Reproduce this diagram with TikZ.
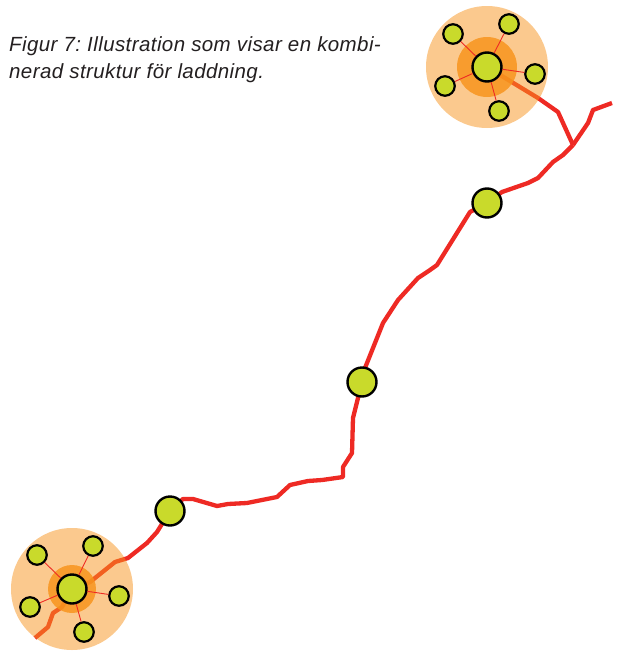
\documentclass[tikz,border=0pt]{standalone}
\usepackage{fontspec}
\setmainfont{Liberation Sans}
\definecolor{route}{HTML}{EE2A24}
\definecolor{halo}{HTML}{F7941D}
\definecolor{station}{HTML}{C9DA2B}
\definecolor{captext}{HTML}{231F20}
\pgfdeclarelayer{bg}
\pgfdeclarelayer{halolayer}
\pgfsetlayers{bg,halolayer,main}
\frenchspacing
\begin{document}
\begin{tikzpicture}[x=1pt,y=-1pt,
  hub/.style={circle, fill=station, draw=black, line width=2.4pt, minimum size=29pt, inner sep=0pt},
  sat/.style={circle, fill=station, draw=black, line width=2.2pt, minimum size=19.5pt, inner sep=0pt},
  road/.style={draw=route, line width=4.3pt, line join=round},
  spoke/.style={draw=route, line width=0.9pt},
  outerhalo/.style={fill=halo, fill opacity=0.5},
  innerhalo/.style={fill=halo, fill opacity=0.85},
  captionline/.style={anchor=base west, inner sep=0pt, text=captext,
    font=\itshape\addfontfeature{LetterSpace=2}\fontsize{20.5}{27}\selectfont}]
\useasboundingbox (0,0) rectangle (618,651);

% caption
\node[captionline] (cap1) at (9,51) {Figur 7: Illustration som visar en kombi-};
\node[captionline] (cap2) at (9,78) {nerad struktur för laddning.};

% stations along the route
\node[hub] (top) at (487,67) {};
\node[hub] (s1) at (487,203) {};
\node[hub] (s2) at (362,382) {};
\node[hub] (s3) at (170,511) {};
\node[hub] (bot) at (72,589) {};

% satellites of the upper cluster
\node[sat] (ta) at (453,34) {};
\node[sat] (tb) at (509,24) {};
\node[sat] (tc) at (535,74) {};
\node[sat] (td) at (499,111) {};
\node[sat] (te) at (445,86) {};

% satellites of the lower cluster
\node[sat] (ba) at (37,555) {};
\node[sat] (bb) at (93,546) {};
\node[sat] (bc) at (119,596) {};
\node[sat] (bd) at (84,632) {};
\node[sat] (be) at (30,607) {};

% end points of the route
\coordinate (fork) at (573,145);
\coordinate (eastend) at (612,103);
\coordinate (westend) at (35,638);

\begin{pgfonlayer}{bg}
  \path[road] (top.center) -- (538,98) -- (558,112) -- (fork);
  \path[road] (eastend) -- (593,110) -- (588,123) -- (fork);
  \path[road] (fork) -- (563,155) -- (553,162) -- (538,178) -- (528,183) -- (502,192)
    -- (s1.center) -- (470,212) -- (437,265) -- (430,270) -- (418,278) -- (398,300)
    -- (383,323) -- (365,368) -- (s2.center) -- (353,418) -- (352,453) -- (343,467)
    -- (343,477) -- (322,480) -- (308,481) -- (290,485) -- (277,497) -- (247,503)
    -- (228,504) -- (217,506) -- (193,499) -- (183,499) -- (s3.center) -- (157,532)
    -- (147,543) -- (128,558) -- (115,562) -- (90,582) -- (bot.center) -- (62,607)
    -- (53,613) -- (48,627) -- (westend);
\end{pgfonlayer}

\begin{pgfonlayer}{halolayer}
  \path[outerhalo] (top.center) circle[radius=61];
  \path[innerhalo] (top.center) circle[radius=30];
  \path[outerhalo] (bot.center) circle[radius=61];
  \path[innerhalo] (bot.center) circle[radius=24];
\end{pgfonlayer}

% spokes
\foreach \s in {ta,tb,tc,td,te} \draw[spoke] (top) -- (\s);
\foreach \s in {ba,bb,bc,bd,be} \draw[spoke] (bot) -- (\s);
\end{tikzpicture}
\end{document}
